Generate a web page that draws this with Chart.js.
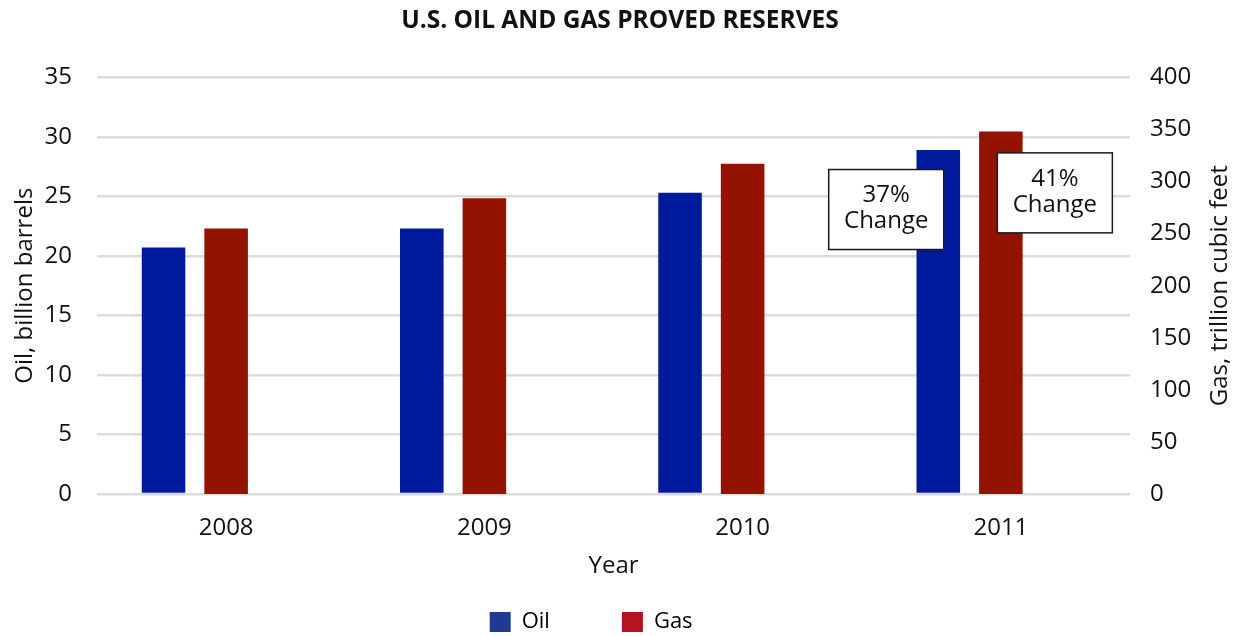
<!DOCTYPE html>
<html>
<head>
<meta charset="utf-8">
<title>U.S. Oil and Gas Proved Reserves</title>
<script src="https://cdn.jsdelivr.net/npm/chart.js@4.4.1/dist/chart.umd.min.js"></script>
<style>
  html, body { margin: 0; padding: 0; background: #fff; }
  #wrap { width: 1240px; height: 636px; }
</style>
</head>
<body>
<div id="wrap"><canvas id="chart"></canvas></div>
<script>
// values
const years = ['2008', '2009', '2010', '2011'];
const oilReserves = [20.7, 22.3, 25.3, 28.9];   // billion barrels
const gasReserves = [255, 284, 317, 348];       // trillion cubic feet
const changeNotes = [['37%', 'Change'], ['41%', 'Change']];
const gasAxisTitle = 'Gas, trillion cubic feet';

const oilColor = '#001a9e';
const gasColor = '#941300';

Chart.defaults.font.family = "'Open Sans', sans-serif";
Chart.defaults.color = '#111';

// the two "% Change" call-outs, placed next to the 2011 bars
const changeBoxes = {
    id: 'changeBoxes',
    afterDatasetsDraw(chart) {
        const ctx = chart.ctx;
        const x = chart.scales.x;
        const yOil = chart.scales.yOil;
        const cx = x.getPixelForValue(years.length - 1);
        const cw = x.width / years.length;
        const spots = [
            { x: cx - 0.444 * cw, y: yOil.getPixelForValue(23.9) },
            { x: cx + 0.209 * cw, y: yOil.getPixelForValue(25.3) }
        ];
        const w = 115, h = 80;
        ctx.save();
        changeNotes.forEach((lines, i) => {
            const s = spots[i];
            ctx.fillStyle = '#fff';
            ctx.fillRect(s.x - w / 2, s.y - h / 2, w, h);
            ctx.lineWidth = 1.5;
            ctx.strokeStyle = '#1a1a1a';
            ctx.strokeRect(s.x - w / 2, s.y - h / 2, w, h);
            ctx.fillStyle = '#111';
            ctx.font = "24px 'Open Sans', sans-serif";
            ctx.textAlign = 'center';
            ctx.textBaseline = 'middle';
            ctx.fillText(lines[0], s.x, s.y - 14);
            ctx.fillText(lines[1], s.x, s.y + 12);
        });
        ctx.restore();
    }
};

// right axis title reads bottom-to-top, like the left one
const gasTitle = {
    id: 'gasTitle',
    afterDraw(chart) {
        const ctx = chart.ctx;
        const yGas = chart.scales.yGas;
        ctx.save();
        ctx.translate(yGas.right - 20, (yGas.top + yGas.bottom) / 2);
        ctx.rotate(-Math.PI / 2);
        ctx.font = "24px 'Open Sans', sans-serif";
        ctx.fillStyle = '#111';
        ctx.textAlign = 'center';
        ctx.textBaseline = 'middle';
        ctx.fillText(gasAxisTitle, 0, 0);
        ctx.restore();
    }
};

const ctx = document.getElementById('chart').getContext('2d');
const myChart = new Chart(ctx, {
    type: 'bar',
    data: {
        labels: years,
        datasets: [{
            label: 'Oil',
            data: oilReserves,
            yAxisID: 'yOil',
            backgroundColor: oilColor,
            barPercentage: 0.696,
            categoryPercentage: 0.727
        }, {
            label: 'Gas',
            data: gasReserves,
            yAxisID: 'yGas',
            backgroundColor: gasColor,
            barPercentage: 0.696,
            categoryPercentage: 0.727
        }, {
            // empty slot so the gas bar sits on the year tick
            label: '',
            data: [],
            yAxisID: 'yOil',
            barPercentage: 0.696,
            categoryPercentage: 0.727
        }]
    },
    options: {
        responsive: true,
        maintainAspectRatio: false,
        animation: false,
        layout: { padding: { bottom: -7 } },
        plugins: {
            title: {
                display: true,
                text: 'U.S. OIL AND GAS PROVED RESERVES',
                color: '#111',
                font: { size: 24.5, weight: 'bold' },
                padding: { top: 6, bottom: 42 }
            },
            legend: {
                position: 'bottom',
                onClick: null,
                labels: {
                    boxWidth: 21,
                    boxHeight: 20,
                    padding: 20,
                    color: '#111',
                    font: { size: 22 },
                    generateLabels: function (chart) {
                        const blank = { text: '', fillStyle: 'rgba(0,0,0,0)', strokeStyle: 'rgba(0,0,0,0)', lineWidth: 0 };
                        return [
                            { text: 'Oil', fillStyle: '#1f3a93', strokeStyle: '#1f3a93', lineWidth: 0, datasetIndex: 0 },
                            blank,
                            { text: 'Gas', fillStyle: '#b4121e', strokeStyle: '#b4121e', lineWidth: 0, datasetIndex: 1 },
                            Object.assign({}, blank, { text: ' ' })
                        ];
                    }
                }
            },
            tooltip: { enabled: false }
        },
        scales: {
            x: {
                grid: { display: false },
                border: { display: false },
                ticks: { padding: 12, font: { size: 24 }, color: '#111' },
                title: { display: true, text: 'Year', font: { size: 24 }, color: '#111', padding: { top: 0, bottom: 10 } },
                afterFit: function (scale) { scale.height = 97; }
            },
            yOil: {
                position: 'left',
                min: 0,
                max: 35,
                ticks: { stepSize: 5, padding: 25, font: { size: 24 }, color: '#111' },
                grid: { color: '#dcdcdc', lineWidth: 2.5, drawTicks: false },
                border: { display: false },
                title: { display: true, text: 'Oil, billion barrels', font: { size: 24 }, color: '#111', padding: { top: 11, bottom: 0 } },
                afterFit: function (scale) { scale.width = 97; }
            },
            yGas: {
                position: 'right',
                min: 0,
                max: 400,
                ticks: { stepSize: 50, padding: 20, font: { size: 24 }, color: '#111' },
                grid: { display: false, drawTicks: false },
                border: { display: false },
                title: { display: false },
                afterFit: function (scale) { scale.width = 110; }
            }
        }
    },
    plugins: [changeBoxes, gasTitle]
});
</script>
</body>
</html>
